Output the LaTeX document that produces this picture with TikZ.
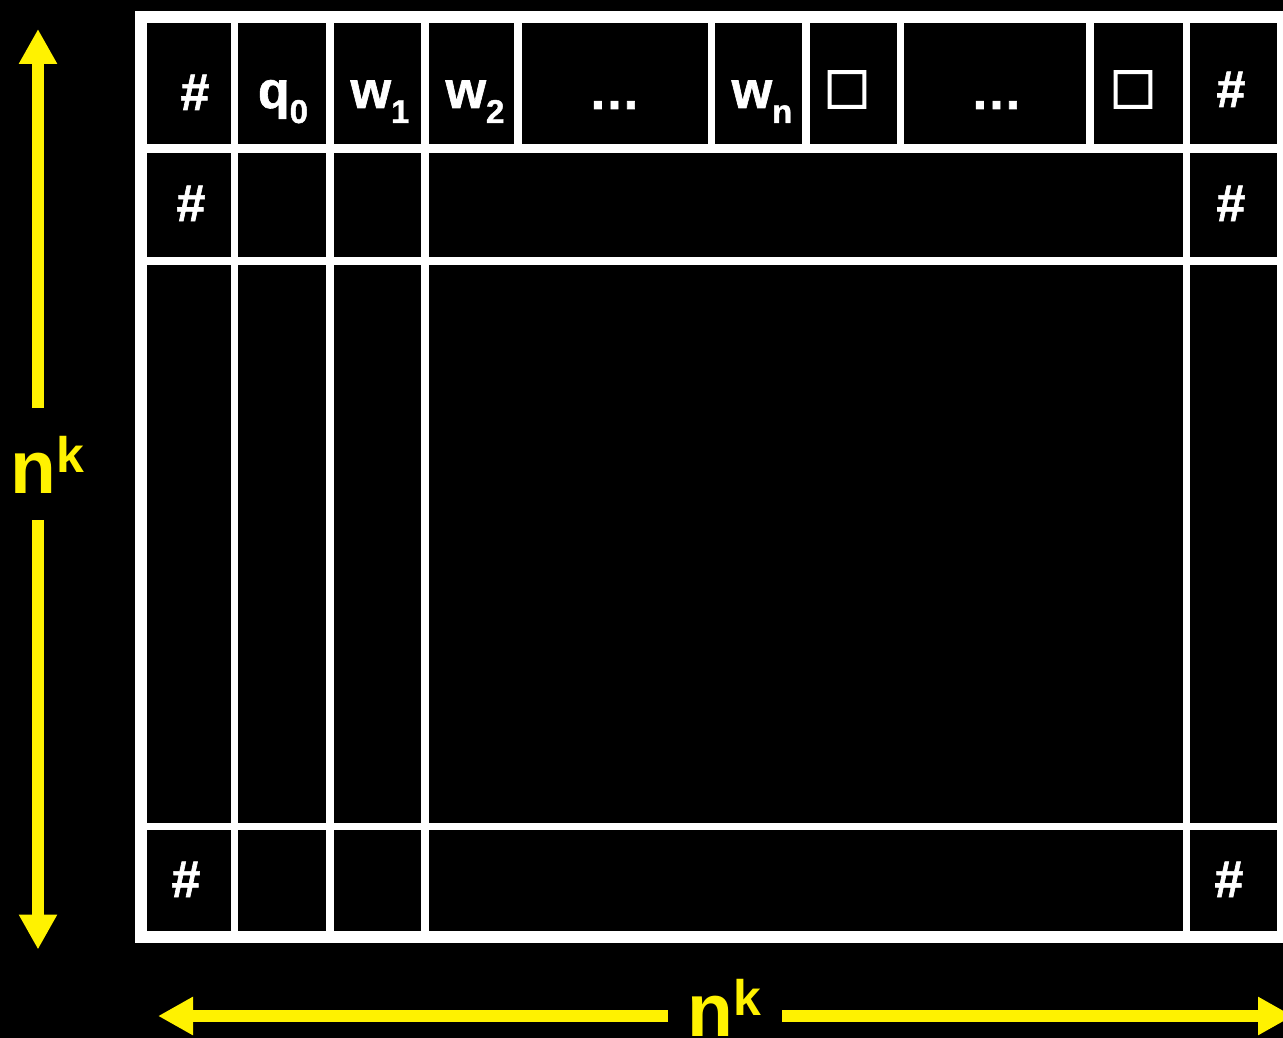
\documentclass[tikz,border=0pt]{standalone}
\usepackage{fontspec}
\setmainfont{Liberation Sans}[BoldFont={Liberation Sans Bold}]
\newfontfamily\boldsans{Liberation Sans Bold}
\newfontfamily\cellsans{Liberation Sans Bold}[FakeBold=1.2]
\newfontfamily\sqfont{Liberation Sans Bold}[FakeBold=2.5]
\usetikzlibrary{arrows.meta}
\newcommand\cellfont{\cellsans\fontsize{52}{52}\selectfont}
\newcommand\subfnt{\cellsans\fontsize{33}{33}\selectfont}
\newcommand\sbs[1]{\raisebox{-15pt}{\subfnt #1}}
\newcommand\dimtext{\boldsans\fontsize{75}{75}\selectfont n\raisebox{21pt}{\boldsans\fontsize{50}{50}\selectfont k}}
\tikzset{
  cellfill/.style={fill=black},
  lab/.style={text=white, font=\cellfont, inner sep=0pt, outer sep=0pt, anchor=base},
  blank/.style={text=white, font={\sqfont\fontsize{62}{62}\selectfont}, inner sep=0pt, outer sep=0pt, anchor=center},
  dimlab/.style={text=yellow, inner sep=0pt, outer sep=0pt, anchor=base},
  dimarrow/.style={draw=yellow, line width=12pt, -{Triangle[width=36pt,length=35pt]}},
}
\begin{document}
\begin{tikzpicture}[x=1pt,y=-1pt]
\useasboundingbox (0,0) rectangle (1283,1038);
\fill[black] (0,0) rectangle (1283,1038);
% white frame
\fill[white] (135,11) rectangle (1295,943);
% row 1 cells
\fill[cellfill] (147,23) rectangle (231,144.5);
\fill[cellfill] (238,23) rectangle (326,144.5);
\fill[cellfill] (333.5,23) rectangle (421,144.5);
\fill[cellfill] (428.5,23) rectangle (514,144.5);
\fill[cellfill] (521.5,23) rectangle (708,144.5);
\fill[cellfill] (715,23) rectangle (802,144.5);
\fill[cellfill] (810,23) rectangle (897,144.5);
\fill[cellfill] (904,23) rectangle (1086,144.5);
\fill[cellfill] (1093.5,23) rectangle (1182.5,144.5);
\fill[cellfill] (1190,23) rectangle (1277,144.5);
% rows 2-4
\foreach \ya/\yb in {153/257, 265/822.5, 830/931}{
  \fill[cellfill] (147,\ya) rectangle (231,\yb);
  \fill[cellfill] (238,\ya) rectangle (326,\yb);
  \fill[cellfill] (333.5,\ya) rectangle (421,\yb);
  \fill[cellfill] (428.5,\ya) rectangle (1182.5,\yb);
  \fill[cellfill] (1190,\ya) rectangle (1277,\yb);
}
% row 1 texts
\node[lab] (t1) at (195,110) {\#};
\node[lab] (t2) at (283,108) {q\sbs{0}};
\node[lab] (t3) at (380,108) {w\sbs{1}};
\node[lab] (t4) at (475,108) {w\sbs{2}};
\node[lab] (t5) at (614.5,109) {…};
\node[lab] (t6) at (762,108) {w\sbs{n}};
\node[blank] (t7) at (847,89.5) {□};
\node[lab] (t8) at (996.5,109) {…};
\node[blank] (t9) at (1133,89.5) {□};
\node[lab] (t10) at (1231,107) {\#};
% other rows
\node[lab] (u1) at (191,221) {\#};
\node[lab] (u2) at (1231,221) {\#};
\node[lab] (v1) at (186,897) {\#};
\node[lab] (v2) at (1229,897) {\#};
% dimension labels and arrows
\node[dimlab] (nkv) at (47,493) {\dimtext};
\node[dimlab] (nkh) at (724,1036) {\dimtext};
\coordinate (vs1) at (38,408);
\coordinate (ve1) at (38,29);
\coordinate (vs2) at (38,520);
\coordinate (ve2) at (38,949.5);
\coordinate (hs1) at (668,1016);
\coordinate (he1) at (158,1016);
\coordinate (hs2) at (782,1016);
\coordinate (he2) at (1293,1016);
\draw[dimarrow] (vs1) -- (ve1);
\draw[dimarrow] (vs2) -- (ve2);
\draw[dimarrow] (hs1) -- (he1);
\draw[dimarrow] (hs2) -- (he2);
\end{tikzpicture}
\end{document}
